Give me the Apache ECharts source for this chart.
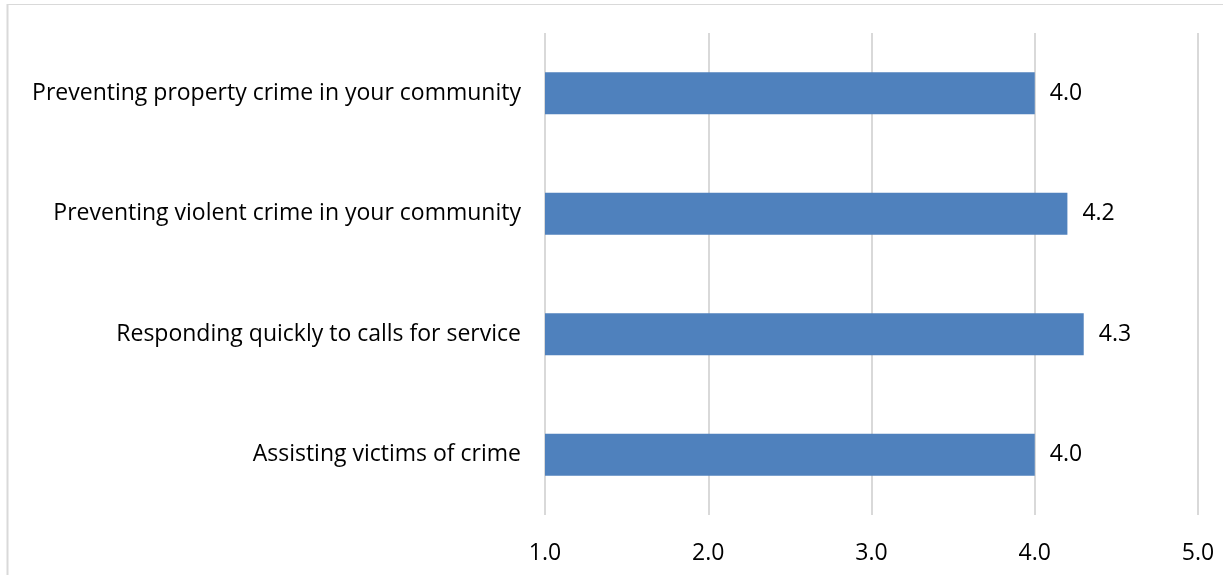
<!DOCTYPE html>
<html>
<head>
<meta charset="utf-8">
<script src="https://cdn.jsdelivr.net/npm/echarts@6/dist/echarts.min.js"></script>
<style>html,body{margin:0;padding:0;background:#fff}#c{width:1223px;height:575px}</style>
</head>
<body>
<div id="c"></div>
<script>
var categories = [
  "Preventing property crime in your community",
  "Preventing violent crime in your community",
  "Responding quickly to calls for service",
  "Assisting victims of crime"
];
var values = [4.0, 4.2, 4.3, 4.0];
var tickLabels = ["1.0", "2.0", "3.0", "4.0", "5.0"];

var chart = echarts.init(document.getElementById('c'), null, {renderer: 'canvas'});
var font = '"Open Sans", sans-serif';
chart.setOption({
  animation: false,
  backgroundColor: '#ffffff',
  grid: {left: 545, right: 25, top: 33, bottom: 60, containLabel: false},
  xAxis: {
    type: 'value', min: 1, max: 5, interval: 1,
    axisLine: {show: false}, axisTick: {show: false},
    splitLine: {show: true, lineStyle: {color: '#d9d9d9', width: 2}},
    axisLabel: {
      margin: 27, color: '#000', fontSize: 23, fontFamily: font,
      formatter: function (v) { return tickLabels[Math.round(v) - 1]; }
    }
  },
  yAxis: {
    type: 'category', data: categories, inverse: true,
    axisLine: {show: false}, axisTick: {show: false},
    axisLabel: {margin: 24, color: '#000', fontSize: 23, fontFamily: font, padding: [5, 0, 0, 0]}
  },
  series: [{
    type: 'bar', data: values, barWidth: 42,
    itemStyle: {color: '#4f81bd'},
    label: {
      show: true, position: 'right', distance: 15,
      color: '#000', fontSize: 23, fontFamily: font, padding: [6, 0, 0, 0],
      formatter: function (p) { return p.value.toFixed(1); }
    }
  }],
  graphic: [
    {type: 'line', shape: {x1: 7, y1: 4.5, x2: 1223, y2: 4.5}, style: {stroke: '#d9d9d9', lineWidth: 1}},
    {type: 'line', shape: {x1: 7.5, y1: 4, x2: 7.5, y2: 575}, style: {stroke: '#d9d9d9', lineWidth: 2}}
  ]
});
</script>
</body>
</html>
